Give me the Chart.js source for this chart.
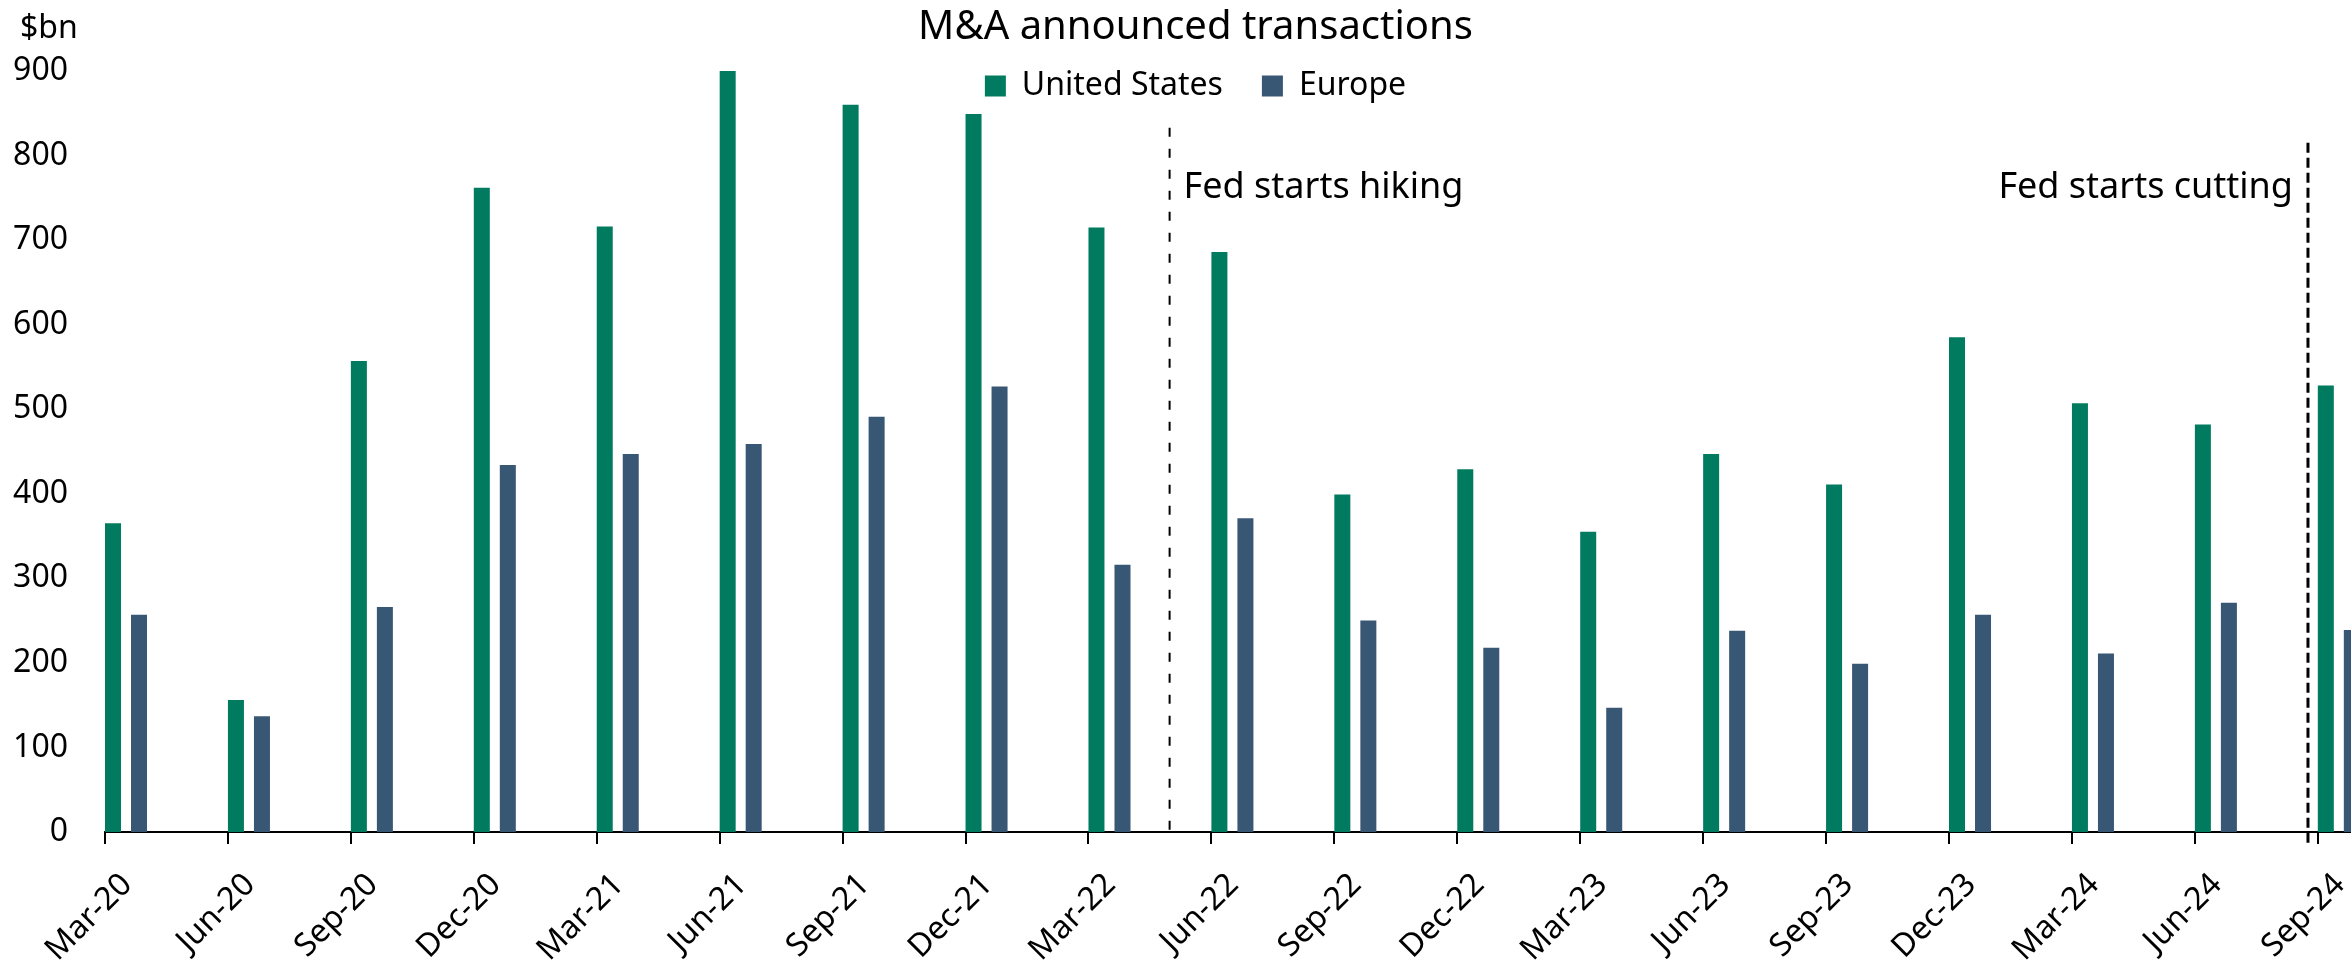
<!DOCTYPE html>
<html>
<head>
<meta charset="utf-8">
<title>M&amp;A announced transactions</title>
<script src="https://cdn.jsdelivr.net/npm/chart.js@4.4.1/dist/chart.umd.min.js"></script>
<style>
  html, body { margin: 0; padding: 0; background: #fff; overflow: hidden; }
  #wrap { width: 2351px; height: 963px; }
</style>
</head>
<body>
<div id="wrap"><canvas id="chart"></canvas></div>
<script>
// Quarter-end dates on the axis
const quarters = ['Mar-20','Jun-20','Sep-20','Dec-20','Mar-21','Jun-21','Sep-21','Dec-21','Mar-22',
                  'Jun-22','Sep-22','Dec-22','Mar-23','Jun-23','Sep-23','Dec-23','Mar-24','Jun-24','Sep-24'];
// Announced M&A, $bn
const unitedStates = [365,156,557,762,716,900,860,849,715,686,399,429,355,447,411,585,507,482,528];
const europe       = [257,137,266,434,447,459,491,527,316,371,250,218,147,238,199,257,211,271,239];
// Fed turning points, in quarter units along the date axis
const fedHiking  = 8.66;
const fedCutting = 17.92;

const GREEN = '#007b5f';
const BLUE  = '#385775';
const FONT  = '"Noto Sans", sans-serif';

// bar geometry: green bar's left edge sits on the date tick
const catPct = 0.4232, barPct = 0.6154;
const shift = catPct * (1 + barPct) / 4;
const xEnd = 18.27; // axis runs on past Sep-24 and is cut by the frame

const toPoints = arr => arr.map((v, i) => ({ x: i, y: v }));

// legend sits over the top of the plot, so let its clip box reach down
const legendOverPlot = {
    id: 'legendOverPlot',
    afterLayout(chart) {
        const lg = chart.legend;
        if (!lg) return;
        lg.height = 90;
        lg.bottom = lg.top + 90;
    }
};

// dashed policy lines + their captions, and the "$bn" unit label
const fedLines = {
    id: 'fedLines',
    afterDatasetsDraw(chart) {
        const { ctx, chartArea, scales: { x2, y } } = chart;
        const events = [
            { text: 'Fed starts hiking',  at: fedHiking,  from: 0,   to: 833, side: 'right', dash: [9, 12], width: 2 },
            { text: 'Fed starts cutting', at: fedCutting, from: -18, to: 815, side: 'left',  dash: [10, 5], width: 3 }
        ];
        ctx.save();
        events.forEach(ev => {
            const px = x2.getPixelForValue(ev.at);
            ctx.beginPath();
            ctx.setLineDash(ev.dash);
            ctx.lineWidth = ev.width;
            ctx.strokeStyle = '#000';
            ctx.moveTo(px, y.getPixelForValue(ev.to));
            ctx.lineTo(px, y.getPixelForValue(ev.from));
            ctx.stroke();

            ctx.setLineDash([]);
            ctx.fillStyle = '#000';
            ctx.font = '36px ' + FONT;
            ctx.textBaseline = 'alphabetic';
            ctx.textAlign = ev.side === 'right' ? 'left' : 'right';
            ctx.fillText(ev.text, ev.side === 'right' ? px + 14 : px - 15, y.getPixelForValue(750));
        });
        ctx.font = '32px ' + FONT;
        ctx.textAlign = 'left';
        ctx.textBaseline = 'middle';
        ctx.fillText('$bn', chartArea.left - 85, chartArea.top - 42);
        ctx.restore();
    }
};

new Chart(document.getElementById('chart'), {
    type: 'bar',
    data: {
        datasets: [
            { label: 'United States', data: toPoints(unitedStates), backgroundColor: GREEN,
              categoryPercentage: catPct, barPercentage: barPct },
            { label: 'Europe', data: toPoints(europe), backgroundColor: BLUE,
              categoryPercentage: catPct, barPercentage: barPct }
        ]
    },
    options: {
        responsive: true,
        maintainAspectRatio: false,
        animation: false,
        // negative right pad only moves title/legend centre; plot edge stays at the frame
        layout: { padding: { left: 0, right: -40, top: 0, bottom: 0 } },
        plugins: {
            title: {
                display: true,
                text: 'M&A announced transactions',
                color: '#000',
                font: { family: FONT, size: 40, weight: 'normal' },
                padding: { top: 4, bottom: -21 }
            },
            legend: {
                display: true,
                maxHeight: 40,
                labels: {
                    color: '#000',
                    font: { family: FONT, size: 32 },
                    boxWidth: 21,
                    boxHeight: 21,
                    padding: 39
                }
            },
            tooltip: { enabled: false }
        },
        scales: {
            x: {
                type: 'linear',
                display: false,
                offset: false,
                min: -shift,
                max: xEnd - shift,
                ticks: { stepSize: 1, includeBounds: false, maxTicksLimit: 40 }
            },
            x2: {
                type: 'linear',
                position: 'bottom',
                offset: false,
                min: 0,
                max: xEnd,
                afterFit: s => { s.height = 131; s.paddingLeft = 0; s.paddingRight = 0; },
                grid: { display: true, offset: false, drawOnChartArea: false, drawTicks: true, tickLength: 12, color: '#000', lineWidth: 2 },
                border: { display: true, color: '#000', width: 2 },
                ticks: {
                    stepSize: 1,
                    includeBounds: false,
                    maxTicksLimit: 40,
                    autoSkip: false,
                    minRotation: 45,
                    maxRotation: 45,
                    padding: 22,
                    labelOffset: 22,
                    color: '#000',
                    font: { family: FONT, size: 32 },
                    callback: v => quarters[v] ?? ''
                }
            },
            y: {
                min: 0,
                max: 900,
                afterFit: s => { s.width = 105; },
                grid: { display: false, drawTicks: false },
                border: { display: false },
                ticks: { stepSize: 100, padding: 37, color: '#000', font: { family: FONT, size: 32 } }
            }
        }
    },
    plugins: [legendOverPlot, fedLines]
});
</script>
</body>
</html>
